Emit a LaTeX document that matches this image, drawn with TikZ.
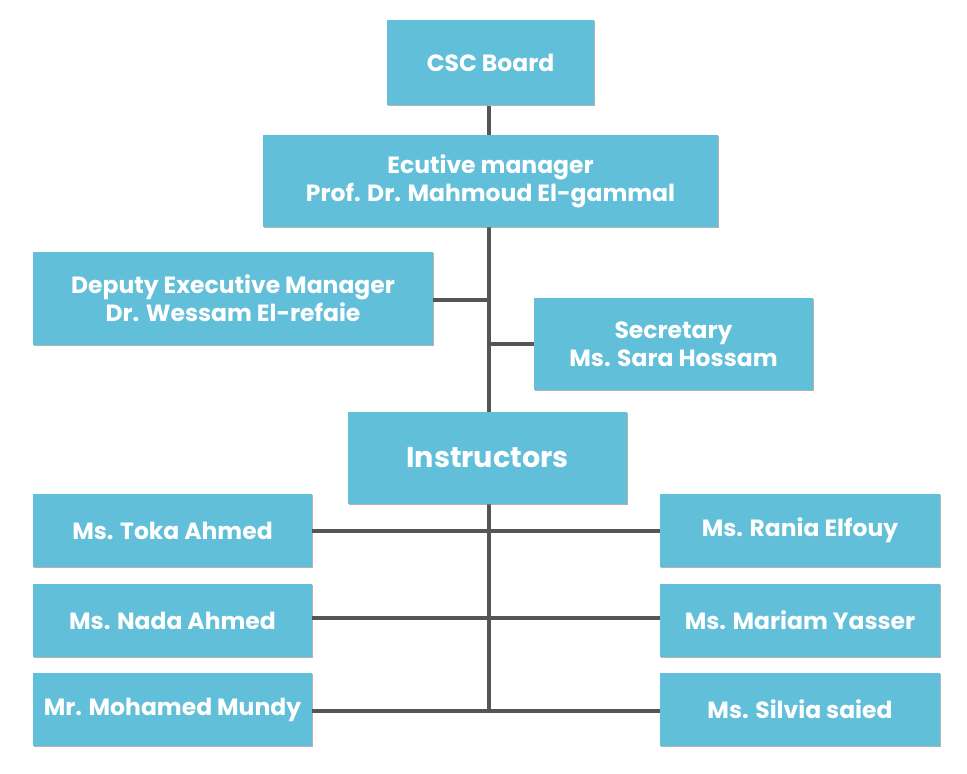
\documentclass[tikz,border=0pt]{standalone}
\usepackage{fontspec}
\setmainfont{Poppins}
\usetikzlibrary{shadows}
\definecolor{boxblue}{HTML}{62BFDA}
\definecolor{linegray}{HTML}{555555}
\tikzset{
 unit/.style={fill=boxblue,text=white,font=\bfseries\fontsize{17.6}{21}\selectfont,
  align=center,inner sep=0pt,
  drop shadow={shadow xshift=0.8pt,shadow yshift=-1pt,fill=gray,opacity=0.6}},
 link/.style={draw=linegray,line width=2.4pt}
}
\begin{document}
\begin{tikzpicture}[x=0.75pt,y=-0.75pt]
 \useasboundingbox (0,0) rectangle (967,774);
 \coordinate (T0) at (489,300);
 \coordinate (T1) at (489,344);
 \coordinate (T2) at (489,531);
 \coordinate (T3) at (489,618);
 \coordinate (T4) at (489,711);
 \draw [link] (489,106) -- (T4);
 \node [unit,minimum width=155.25pt,minimum height=63.75pt] (X1) at (490.5,62.5) {CSC Board};
 \node [unit,minimum width=341.25pt,minimum height=69pt] (X2) at (490.5,181) {Ecutive manager\\Prof. Dr. Mahmoud El-gammal};
 \node [unit,minimum width=300pt,minimum height=69.75pt] (X3) at (233,298.5) {Deputy Executive Manager\\Dr. Wessam El-refaie};
 \node [unit,minimum width=209.25pt,minimum height=69pt] (X4) at (673.5,344) {Secretary\\Ms. Sara Hossam};
 \node [unit,minimum width=209.25pt,minimum height=69pt,font=\bfseries\fontsize{21.5}{25}\selectfont] (X5) at (487.5,458) {Instructors};
 \node [unit,minimum width=209.25pt,minimum height=54.75pt] (X6) at (172.5,530.5) {Ms. Toka Ahmed};
 \node [unit,minimum width=209.25pt,minimum height=54.75pt] (X7) at (172.5,620.5) {Ms. Nada Ahmed};
 \node [unit,minimum width=209.25pt,minimum height=54.75pt] (X8) at (172.5,709.5) {Mr. Mohamed Mundy};
 \node [unit,minimum width=210pt,minimum height=54.75pt] (X9) at (800,530.5) {Ms. Rania Elfouy};
 \node [unit,minimum width=210pt,minimum height=54.75pt] (X10) at (800,620.5) {Ms. Mariam Yasser};
 \node [unit,minimum width=210pt,minimum height=54.75pt] (X11) at (800,709.5) {Ms. Silvia saied};
 \draw [link] (X3.east |- T0) -- (T0);
 \draw [link] (T1) -- (X4.west |- T1);
 \draw [link] (X6.east |- T2) -- (X9.west |- T2);
 \draw [link] (X7.east |- T3) -- (X10.west |- T3);
 \draw [link] (X8.east |- T4) -- (X11.west |- T4);
\end{tikzpicture}
\end{document}
